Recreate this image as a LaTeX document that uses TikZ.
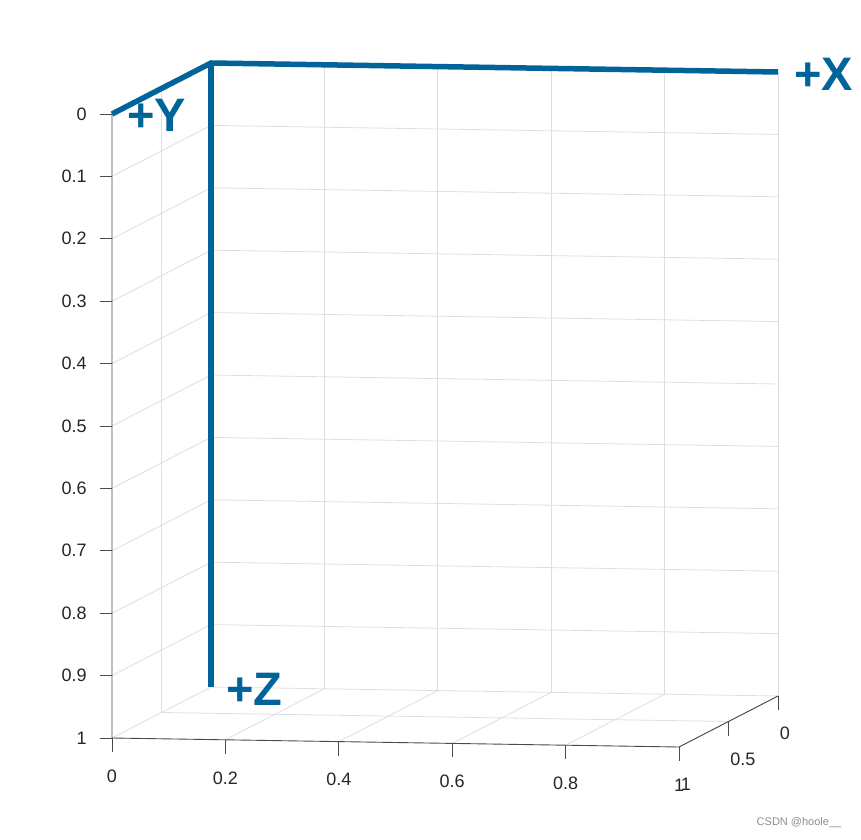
\documentclass[tikz,border=0pt]{standalone}
\usepackage{fontspec}
\setmainfont{Liberation Sans}
\usepackage{xcolor}
\usepackage{tikz}
\usetikzlibrary{positioning}
\definecolor{vblue}{HTML}{00649A}
\definecolor{gridgray}{HTML}{DEDEDE}
\definecolor{axisgray}{HTML}{4A4A4A}
\definecolor{tickgray}{HTML}{262626}

\begin{document}
\begin{tikzpicture}[
    gridline/.style={draw=gridgray, line width=0.8pt},
    axisline/.style={draw=axisgray, line width=0.9pt},
    ticklabel/.style={font=\fontsize{18}{20}\selectfont, text=tickgray, inner sep=0pt},
    vec/.style={draw=vblue, line width=5.5pt, line join=miter},
    veclabel/.style={font=\fontsize{47}{50}\selectfont\bfseries, text=vblue, inner sep=0pt, anchor=west},
    watermark/.style={font=\fontsize{11}{12}\selectfont, text=black!45, inner sep=0pt}
]
    \path[use as bounding box] (0pt,0pt) rectangle (861pt,839pt);

    \begin{scope}[shift={(211pt,776pt)}, x={(567pt,-9pt)}, y={(-99pt,-51pt)}, z={(0pt,-624pt)}]
        % Corners
        \coordinate (O) at (0,0,0);
        \coordinate (ex) at (1,0,0);
        \coordinate (ey) at (0,1,0);
        \coordinate (ez) at (0,0,1);
        \coordinate (c011) at (0,1,1);
        \coordinate (c111) at (1,1,1);
        \coordinate (c101) at (1,0,1);

        % Grid: back wall, left wall, floor
        \foreach \xv in {0.2,0.4,0.6,0.8,1} {
            \draw[gridline] (\xv,0,0) -- (\xv,0,1);
            \draw[gridline] (\xv,0,1) -- (\xv,1,1);
        }
        \foreach \zv in {0,0.1,0.2,0.3,0.4,0.5,0.6,0.7,0.8,0.9,1} {
            \draw[gridline] (0,0,\zv) -- (1,0,\zv);
            \draw[gridline] (0,0,\zv) -- (0,1,\zv);
        }
        \draw[gridline] (0,0.5,0) -- (0,0.5,1);
        \draw[gridline] (0,0.5,1) -- (1,0.5,1);

        % Axes
        \draw[axisline] (ey) -- (c011) -- (c111) -- (c101);
        \foreach \zv in {0,0.1,0.2,0.3,0.4,0.5,0.6,0.7,0.8,0.9,1}
            \draw[axisline] (0,1,\zv) -- ++(-12pt,0pt) node[ticklabel, anchor=east, xshift=-13pt] {\zv};
        \foreach \xv in {0,0.2,0.4,0.6,0.8,1}
            \draw[axisline] (\xv,1,1) -- ++(0pt,-14pt) node[ticklabel, anchor=center, yshift=-24pt] {\xv};
        \foreach \yv in {0,0.5,1}
            \draw[axisline] (1,\yv,1) -- ++(0pt,-14pt) node[ticklabel, anchor=west, xshift=1.5pt, yshift=-23.5pt] {\yv};

        % Unit vectors
        \draw[vec] (ey) -- (O) -- (ex);
        \draw[vec] (O) -- (ez);
        \node[veclabel, xshift=16pt, yshift=-2pt] (lx) at (ex) {+X};
        \node[veclabel, xshift=15pt, yshift=-1pt] (ly) at (ey) {+Y};
        \node[veclabel, xshift=15pt, yshift=-2pt] (lz) at (ez) {+Z};
    \end{scope}

    \node[watermark] (mark) at (799pt,16pt) {CSDN @hoole\_\_};
\end{tikzpicture}
\end{document}
